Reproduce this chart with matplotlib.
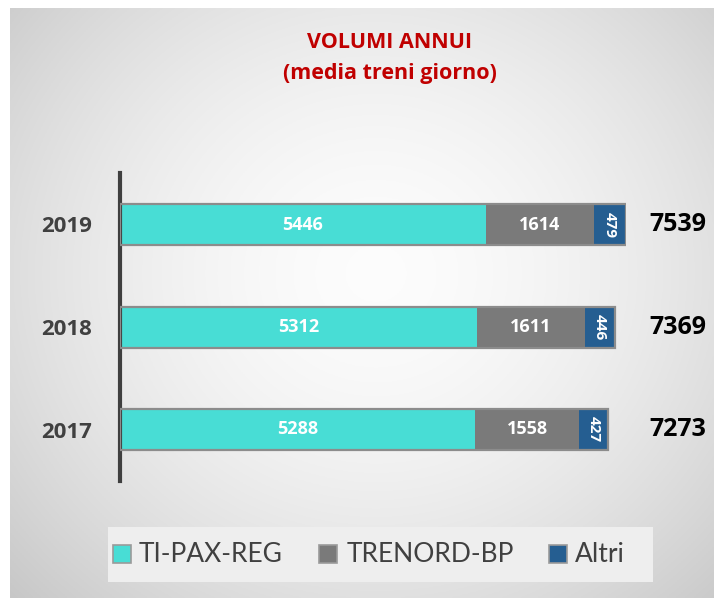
import numpy as np
import matplotlib
matplotlib.use("Agg")
import matplotlib.pyplot as plt
from matplotlib.patches import Rectangle

# ── data ──────────────────────────────────────────────────────
years    = ["2017", "2018", "2019"]
ti_pax   = [5288, 5312, 5446]
trenord  = [1558, 1611, 1614]
altri    = [427, 446, 479]
totals   = [7273, 7369, 7539]
series   = ["TI-PAX-REG", "TRENORD-BP", "Altri"]
colors   = ["#48ddd5", "#7a7a7a", "#255e91"]

BOLD = ["Open Sans", "DejaVu Sans"]
LEG  = ["Lato", "DejaVu Sans"]
plt.rcParams["font.family"] = BOLD

W, H = 714, 598
fig = plt.figure(figsize=(W / 100, H / 100), dpi=100)
fig.patch.set_facecolor("white")

def px(x, y):
    # pixel position (from top-left) -> figure fraction
    return x / W, 1 - y / H

# ── gradient background panel ─────────────────────────────────
bg = fig.add_axes([10 / W, 0, 1 - 10 / W, 1 - 8 / H])
yy, xx = np.mgrid[0:1:300j, 0:1:360j]
r = np.sqrt(((xx - 0.52) / 0.72) ** 2 + ((yy - 0.45) / 0.80) ** 2)
g = np.clip(0.99 - 0.21 * r ** 1.7, 0.74, 1.0)
bg.imshow(np.dstack([g, g, g]), extent=[0, 1, 0, 1], aspect="auto", origin="upper")
bg.set_axis_off()

# ── bars ──────────────────────────────────────────────────────
ax_l, ax_r, ax_t, ax_b = 120, 626, 173, 481
ax = fig.add_axes([ax_l / W, (H - ax_b) / H, (ax_r - ax_l) / W, (ax_b - ax_t) / H])
ax.set_facecolor("none")
y = np.arange(len(years))
h = 0.40
left = np.zeros(len(years))
for vals, c, name in zip([ti_pax, trenord, altri], colors, series):
    ax.barh(y, vals, left=left, height=h, color=c, edgecolor="none", label=name, zorder=2)
    left += np.array(vals)
# gray outline around whole stacked bar
for yi, t in zip(y, totals):
    ax.add_patch(Rectangle((0, yi - h / 2), t, h, fill=False,
                           edgecolor="#8c8c8c", lw=1.6, zorder=3))

xmax = 7539
x_tot = xmax * (678 - ax_l) / (ax_r - ax_l)
for yi, a, b, c, t in zip(y, ti_pax, trenord, altri, totals):
    ax.text(a / 2, yi, str(a), color="white", fontsize=13, fontweight="bold",
            ha="center", va="center", zorder=4)
    ax.text(a + b / 2, yi, str(b), color="white", fontsize=13, fontweight="bold",
            ha="center", va="center", zorder=4)
    ax.text(a + b + c / 2, yi, str(c), color="white", fontsize=11, fontweight="bold",
            ha="center", va="center", rotation=-90, zorder=4)
    ax.text(x_tot, yi, str(t), color="black", fontsize=18, fontweight="bold",
            ha="center", va="center", clip_on=False)

ax.set_xlim(0, xmax)
# bar centres at 429.5 / 327 / 224.5 px
ax.set_ylim(-(ax_b - 429.5) / 102.5, 2 + (224.5 - ax_t) / 102.5)
ax.set_yticks(y)
ax.set_yticklabels(years, fontsize=16, fontweight="bold", color="#404040")
ax.tick_params(axis="y", length=0, pad=20)
ax.set_xticks([])
for s in ["top", "right", "bottom"]:
    ax.spines[s].set_visible(False)
ax.spines["left"].set_color("#3f3f3f")
ax.spines["left"].set_linewidth(3)

# ── title ─────────────────────────────────────────────────────
fig.text(*px(390, 43), "VOLUMI ANNUI", color="#c00000", fontsize=15.5,
         fontweight="bold", ha="center", va="center")
fig.text(*px(390, 74), "(media treni giorno)", color="#c00000", fontsize=15.5,
         fontweight="bold", ha="center", va="center")

# ── legend (manual, Excel style) ──────────────────────────────
leg_bg = fig.add_axes([108 / W, (H - 582) / H, (653 - 108) / W, 55 / H])
leg_bg.set_facecolor("#eeeeee")
leg_bg.set_xticks([]); leg_bg.set_yticks([])
for s in leg_bg.spines.values():
    s.set_visible(False)
sq_x  = [113, 319, 549]
txt_x = [139, 347, 575]
for sx, tx, c, name in zip(sq_x, txt_x, colors, series):
    fx, fy = px(sx, 563)
    fig.patches.append(Rectangle((fx, fy), 18 / W, 18 / H, transform=fig.transFigure,
                                 facecolor=c, edgecolor="#9a9a9a", lw=1.2))
    fig.text(*px(tx, 554), name, color="#404040", fontsize=19, family=LEG,
             ha="left", va="center")

fig.savefig("out.png", dpi=100)
